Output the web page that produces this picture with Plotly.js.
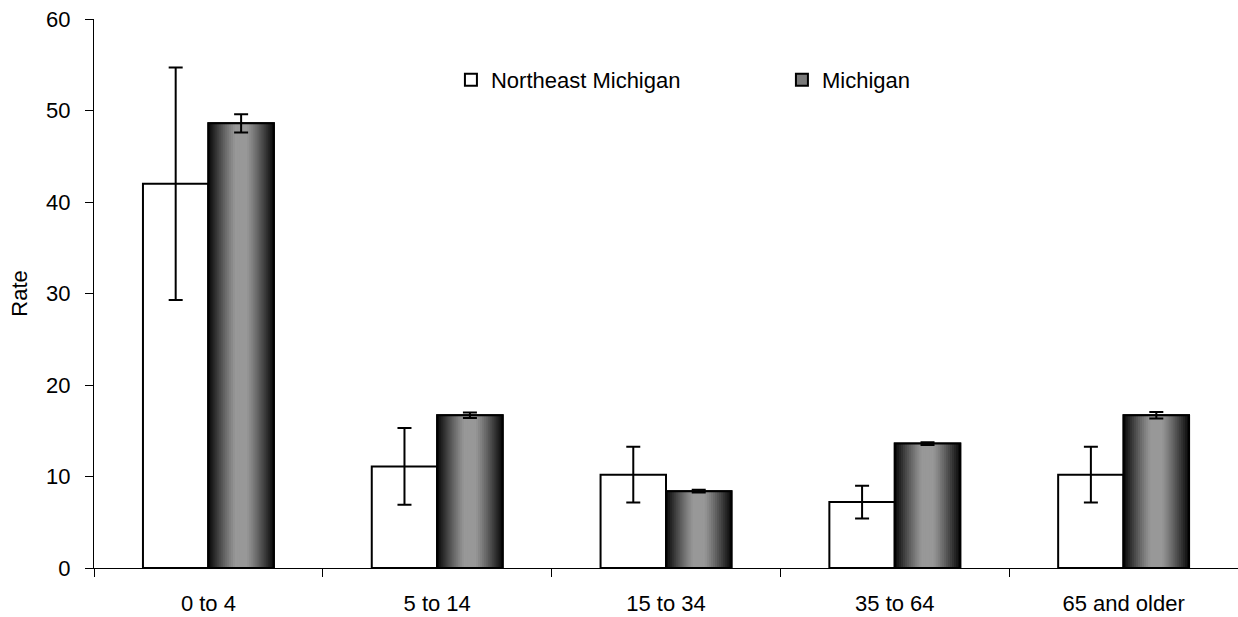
<!DOCTYPE html>
<html>
<head>
<meta charset="utf-8">
<script src="https://cdn.plot.ly/plotly-3.0.1.min.js"></script>
<style>html,body{margin:0;padding:0;background:#fff;}#chart{width:1238px;height:617px;}</style>
</head>
<body>
<div id="chart"></div>
<script>
const categories = ['0 to 4', '5 to 14', '15 to 34', '35 to 64', '65 and older'];
const northeastValues = [42.0, 11.1, 10.2, 7.2, 10.2];
const northeastErrors = [12.7, 4.2, 3.05, 1.8, 3.05];
const michiganValues = [48.6, 16.7, 8.4, 13.6, 16.7];
const michiganErrors = [1.0, 0.3, 0.15, 0.15, 0.35];
const seriesNames = ['Northeast Michigan', 'Michigan'];

const W = 0.286;
const FONT = 'Arial, "Liberation Sans", sans-serif';
const FS = 22;
const traces = [];

traces.push({
  type: 'bar', name: seriesNames[0], x: categories, y: northeastValues,
  offset: -W, width: W,
  marker: {color: '#ffffff', line: {color: '#000000', width: 2}},
  error_y: {type: 'data', array: northeastErrors, visible: true, color: '#000000', thickness: 2, width: 7},
  hoverinfo: 'x+y'
});

// Michigan base (legend carrier)
traces.push({
  type: 'bar', name: seriesNames[1], x: categories, y: michiganValues,
  offset: 0, width: W,
  marker: {color: '#7a7a7a', line: {color: '#000000', width: 2}},
  hoverinfo: 'x+y'
});

// cylindrical shading layers
const N = 16;
function shade(d) {
  if (d <= 0.2) return 152;
  const t = (d - 0.2) / 0.8;
  return Math.round(152 - 140 * Math.pow(t, 1.15));
}
for (let k = 0; k < N; k++) {
  const frac = 1 - k / N;
  const w = W * frac;
  const g = shade(frac);
  traces.push({
    type: 'bar', x: categories, y: michiganValues,
    offset: (W - w) / 2, width: w,
    marker: {color: `rgb(${g},${g},${g})`, line: {width: 0}},
    showlegend: false, hoverinfo: 'skip'
  });
}

// outline + error bars on top
traces.push({
  type: 'bar', x: categories, y: michiganValues,
  offset: 0, width: W,
  marker: {color: 'rgba(0,0,0,0)', line: {color: '#000000', width: 2}},
  error_y: {type: 'data', array: michiganErrors, visible: true, color: '#000000', thickness: 2, width: 7},
  showlegend: false, hoverinfo: 'skip'
});

const layout = {
  width: 1238, height: 617,
  margin: {l: 94, r: 0, t: 19, b: 49},
  paper_bgcolor: '#ffffff', plot_bgcolor: '#ffffff',
  barmode: 'overlay',
  font: {family: FONT, size: FS, color: '#000000'},
  showlegend: true,
  legend: {
    orientation: 'h', x: 0.312, xanchor: 'left', y: 0.889, yanchor: 'middle',
    font: {family: FONT, size: FS, color: '#000000'},
    bgcolor: 'rgba(0,0,0,0)', entrywidth: 286, entrywidthmode: 'pixels',
    traceorder: 'normal'
  },
  xaxis: {
    type: 'category', showline: true, linecolor: '#000000', linewidth: 1,
    showgrid: false, zeroline: false, ticks: 'outside', tickson: 'boundaries',
    ticklen: 8, tickcolor: '#000000', tickwidth: 1, ticklabelstandoff: 16,
    tickfont: {family: FONT, size: FS, color: '#000000'},
    range: [-0.5, 4.5]
  },
  yaxis: {
    range: [0, 60], dtick: 10, showline: true, linecolor: '#000000', linewidth: 1,
    showgrid: false, zeroline: false, ticks: 'outside', ticklen: 8,
    tickcolor: '#000000', tickwidth: 1, ticklabelstandoff: 10,
    tickfont: {family: FONT, size: FS, color: '#000000'},
    title: {text: 'Rate', font: {family: FONT, size: FS, color: '#000000'}, standoff: 12}
  }
};

Plotly.newPlot('chart', traces, layout, {displayModeBar: false, staticPlot: true});
</script>
</body>
</html>
